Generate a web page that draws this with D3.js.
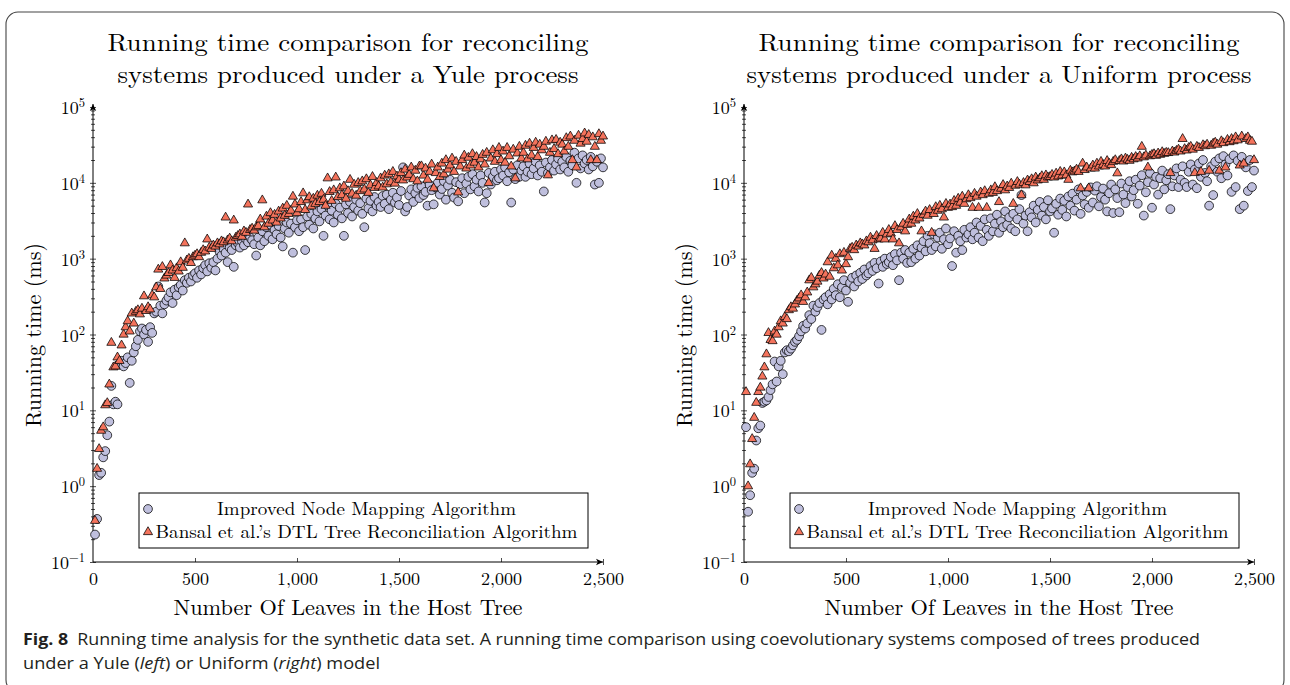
<!DOCTYPE html>
<html>
<head>
<meta charset="utf-8">
<script src="https://cdn.jsdelivr.net/npm/d3@7"></script>
<style>
body { margin: 0; background: #fff; }
</style>
</head>
<body>
<svg id="chart" width="1290" height="685"></svg>
<script>
// host tree sizes (number of leaves), shared by all four series
var leaves = [
  10, 20, 30, 40, 50, 60, 70, 80, 90, 100,
  110, 120, 130, 140, 150, 160, 170, 180, 190, 200,
  210, 220, 230, 240, 250, 260, 270, 280, 290, 300,
  310, 320, 330, 340, 350, 360, 370, 380, 390, 400,
  410, 420, 430, 440, 450, 460, 470, 480, 490, 500,
  510, 520, 530, 540, 550, 560, 570, 580, 590, 600,
  610, 620, 630, 640, 650, 660, 670, 680, 690, 700,
  710, 720, 730, 740, 750, 760, 770, 780, 790, 800,
  810, 820, 830, 840, 850, 860, 870, 880, 890, 900,
  910, 920, 930, 940, 950, 960, 970, 980, 990, 1000,
  1010, 1020, 1030, 1040, 1050, 1060, 1070, 1080, 1090, 1100,
  1110, 1120, 1130, 1140, 1150, 1160, 1170, 1180, 1190, 1200,
  1210, 1220, 1230, 1240, 1250, 1260, 1270, 1280, 1290, 1300,
  1310, 1320, 1330, 1340, 1350, 1360, 1370, 1380, 1390, 1400,
  1410, 1420, 1430, 1440, 1450, 1460, 1470, 1480, 1490, 1500,
  1510, 1520, 1530, 1540, 1550, 1560, 1570, 1580, 1590, 1600,
  1610, 1620, 1630, 1640, 1650, 1660, 1670, 1680, 1690, 1700,
  1710, 1720, 1730, 1740, 1750, 1760, 1770, 1780, 1790, 1800,
  1810, 1820, 1830, 1840, 1850, 1860, 1870, 1880, 1890, 1900,
  1910, 1920, 1930, 1940, 1950, 1960, 1970, 1980, 1990, 2000,
  2010, 2020, 2030, 2040, 2050, 2060, 2070, 2080, 2090, 2100,
  2110, 2120, 2130, 2140, 2150, 2160, 2170, 2180, 2190, 2200,
  2210, 2220, 2230, 2240, 2250, 2260, 2270, 2280, 2290, 2300,
  2310, 2320, 2330, 2340, 2350, 2360, 2370, 2380, 2390, 2400,
  2410, 2420, 2430, 2440, 2450, 2460, 2470, 2480, 2490, 2500
];

// running times in ms, Yule process
var yuleImproved = [
  0.23, 0.37, 1.4, 1.5, 2.4, 2.9, 4.7, 7.1, 21, 12,
  13, 12, 40, 45, 38, 42, 50, 23, 45, 58,
  70, 85, 110, 120, 100, 115, 80, 125, 105, 190,
  200, 430, 240, 190, 250, 280, 310, 360, 260, 390,
  330, 420, 450, 380, 520, 480, 560, 500, 600, 640,
  560, 700, 620, 750, 820, 680, 870, 760, 900, 700,
  1000, 1250, 1100, 1350, 1200, 900, 1400, 1300, 780, 1500,
  1600, 1400, 1700, 1500, 1800, 1650, 1900, 1750, 1550, 1100,
  1900, 1500, 2300, 1700, 2600, 2000, 2800, 1800, 2400, 2100,
  2700, 1900, 1450, 2500, 3000, 2200, 2900, 1200, 2600, 3200,
  2300, 3300, 2600, 1300, 3600, 2800, 3900, 2500, 3400, 4200,
  3100, 4500, 2000, 3700, 5000, 3300, 4300, 3000, 5300, 3800,
  4700, 3400, 2000, 5200, 4000, 5600, 3600, 4800, 6000, 4300,
  5400, 3900, 2600, 6200, 4600, 5800, 4200, 6500, 5000, 5600,
  4800, 6700, 5300, 7000, 4500, 6000, 7400, 5500, 6400, 5100,
  7800, 16000, 4200, 4800, 6800, 8200, 5600, 7300, 8600, 6300,
  9000, 6900, 7600, 5000, 9400, 8000, 5200, 8700, 10000, 7000,
  8300, 10500, 6000, 9200, 11000, 7400, 6400, 10200, 5700, 9600,
  11500, 7300, 9800, 12000, 8200, 13000, 9000, 11000, 7700, 12500,
  10000, 5500, 7300, 13500, 9500, 12000, 14000, 10800, 11500, 15000,
  12500, 16000, 10500, 13800, 5500, 15000, 11200, 17000, 12000, 14500,
  16500, 12000, 14000, 18000, 13000, 15500, 19000, 12500, 17000, 14000,
  7700, 18500, 13500, 16000, 20000, 14500, 17500, 21000, 15000, 19000,
  16000, 22000, 14000, 19500, 17000, 25000, 10000, 21000, 15500, 23000,
  18000, 20000, 15000, 22000, 16500, 9500, 19000, 10000, 21000, 16000
];
var yuleBansal = [
  0.35, 1.7, 3.1, 5.4, 6.0, 11.7, 12.5, 22, 78, 37,
  38, 50, 45, 72, 100, 125, 150, 110, 190, 140,
  200, 210, 185, 220, 320, 205, 230, 215, 330, 310,
  420, 720, 400, 780, 550, 600, 650, 820, 700, 560,
  750, 680, 900, 760, 1600, 950, 1000, 880, 1050, 1100,
  1150, 1050, 1200, 1300, 1250, 1800, 1400, 1350, 1500, 1450,
  1600, 1550, 1700, 1650, 3500, 1750, 1850, 1700, 3200, 1900,
  2000, 2100, 1950, 2300, 2200, 5200, 2400, 2500, 2350, 2600,
  2700, 3300, 5900, 2600, 3600, 2900, 4000, 3200, 3800, 3000,
  4200, 3400, 4600, 3700, 5000, 3900, 4300, 6600, 5200, 4000,
  4500, 5600, 7300, 4400, 5900, 6500, 4900, 6200, 5300, 6800,
  5600, 7200, 6000, 5000, 11500, 7600, 5800, 8000, 11800, 6500,
  8500, 6900, 9000, 6200, 7800, 11000, 7200, 9500, 6800, 10000,
  7800, 10500, 8200, 11200, 7400, 9300, 12000, 8600, 10000, 9000,
  11500, 8700, 12500, 9600, 13000, 10200, 14000, 9800, 12200, 11000,
  13500, 10800, 15000, 11800, 12800, 16000, 11200, 14500, 10500, 16500,
  16600, 12500, 15500, 11000, 14000, 17500, 8500, 13500, 16000, 12000,
  18000, 13000, 20000, 15000, 17000, 21000, 14000, 19000, 7500, 16500,
  20000, 23000, 15500, 21500, 17000, 24000, 18500, 22000, 16000, 20500,
  23500, 17500, 25000, 10000, 21000, 27000, 19000, 24000, 29000, 20000,
  26000, 18500, 29000, 22500, 16500, 27500, 11500, 24500, 30000, 21000,
  25000, 31000, 20500, 33000, 23000, 29000, 34000, 22000, 32000, 27000,
  30000, 35000, 12600, 25000, 36500, 28000, 37000, 24000, 34000, 32000,
  26000, 39000, 30000, 41000, 20000, 36000, 16000, 42000, 33000, 38000,
  45000, 35000, 43000, 20000, 40000, 30000, 20000, 44000, 36000, 41000
];

// running times in ms, Uniform process
var uniformImproved = [
  6.0, 0.46, 0.76, 1.5, 1.7, 4.0, 5.8, 6.3, 12.5, 13,
  13.5, 15, 18.5, 22, 44, 24, 38, 45, 30, 58,
  62, 60, 65, 72, 80, 85, 95, 110, 130, 120,
  140, 180, 160, 240, 200, 230, 260, 115, 290, 310,
  250, 340, 290, 400, 330, 460, 310, 420, 520, 380,
  270, 480, 560, 430, 600, 500, 650, 540, 720, 600,
  640, 800, 690, 880, 750, 470, 920, 780, 1000, 850,
  900, 1050, 820, 1150, 950, 520, 1200, 1000, 1300, 880,
  1200, 900, 1350, 1000, 1500, 1100, 1400, 1700, 1250, 2000,
  1600, 1300, 2100, 1450, 1900, 2200, 1350, 1800, 2500, 1550,
  1850, 800, 2300, 1200, 2000, 1700, 1300, 2400, 1900, 2100,
  2600, 1800, 2200, 3000, 1900, 2700, 1700, 3300, 2400, 2000,
  3400, 2300, 2900, 3800, 2200, 3100, 2600, 4200, 2800, 3500,
  2500, 3900, 2300, 3300, 4500, 6900, 2900, 3700, 2300, 4100,
  3500, 5000, 3000, 4400, 5600, 3700, 4800, 3300, 5900, 4200,
  4600, 2200, 5300, 3800, 6200, 4400, 5800, 3600, 6600, 5000,
  7200, 4300, 6000, 8200, 3900, 6800, 5200, 7600, 4700, 8700,
  5500, 7900, 9000, 4900, 6500, 8400, 6000, 4200, 7300, 9500,
  4000, 8200, 6300, 4100, 9800, 7000, 5400, 8800, 10500, 6600,
  8000, 11000, 5300, 9200, 12600, 3700, 7500, 10200, 13500, 4700,
  9500, 12000, 7000, 11500, 14500, 8200, 10800, 13000, 4500, 9000,
  12500, 15500, 8800, 11000, 16500, 10000, 8800, 14000, 17500, 9500,
  15000, 8500, 18000, 12000, 20000, 13500, 10500, 5000, 16500, 6900,
  19000, 14000, 21000, 11500, 22500, 17500, 12500, 20500, 7600, 23000,
  8800, 19500, 4500, 22000, 5000, 16000, 7800, 20000, 8800, 14500
];
var uniformBansal = [
  17.5, 1.0, 1.95, 4.2, 8.0, 12.6, 17.5, 20, 28, 37,
  55, 105, 85, 82, 110, 100, 125, 150, 140, 170,
  160, 210, 230, 220, 250, 280, 300, 330, 270, 310,
  360, 520, 560, 420, 460, 500, 600, 650, 550, 620,
  900, 580, 1100, 750, 1000, 820, 1150, 700, 1200, 850,
  1050, 1350, 1400, 1300, 1500, 1450, 1600, 1550, 1500, 1700,
  1650, 1900, 1750, 1350, 2000, 1800, 1850, 2200, 1800, 2100,
  2400, 2150, 1800, 2700, 2400, 1600, 2600, 2900, 2300, 2800,
  3300, 2900, 3600, 3200, 3900, 3400, 2300, 3800, 4200, 3700,
  4400, 2200, 3900, 4800, 4300, 5000, 4500, 3500, 5300, 4700,
  5200, 4800, 5800, 5000, 6200, 5500, 6600, 5300, 6100, 6900,
  6300, 4700, 7200, 6600, 4700, 7500, 6900, 7800, 4700, 7200,
  8000, 7400, 8800, 7800, 5600, 8400, 9400, 8000, 9000, 8600,
  9800, 5300, 9200, 10300, 9500, 6900, 10000, 9300, 10800, 10300,
  11200, 9900, 11800, 10800, 11500, 12300, 11000, 12600, 11800, 12000,
  12800, 11800, 13300, 12200, 14000, 12500, 13800, 12600, 11000, 14500,
  13800, 14200, 15000, 14000, 8500, 18000, 14800, 16000, 8500, 15500,
  17000, 15500, 18000, 16500, 19000, 17300, 16500, 19500, 18000, 17200,
  19000, 20000, 13400, 19500, 20500, 19200, 21000, 20200, 19600, 21500,
  20500, 22000, 21000, 22500, 30000, 21800, 23000, 16000, 22500, 23500,
  24000, 22800, 24500, 23500, 25500, 24200, 25000, 24800, 13500, 26000,
  25200, 26500, 27500, 26000, 38000, 28000, 26800, 29000, 30000, 27500,
  13500, 30000, 29000, 14000, 31500, 30500, 32000, 14500, 31000, 33000,
  34000, 32000, 14500, 35500, 33500, 16000, 37000, 34500, 38000, 35500,
  40000, 36500, 17000, 41000, 18000, 38000, 40000, 36000, 35000, 20000
];

var xTicks = [500, 1000, 1500, 2000, 2500];
var xTickZero = [0];
var yDecades = [-1, 0, 1, 2, 3, 4, 5];
var yMinorFactors = [2, 3, 4, 5, 6, 7, 8, 9];

var titleYule = ['Running time comparison for reconciling', 'systems produced under a Yule process'];
var titleUniform = ['Running time comparison for reconciling', 'systems produced under a Uniform process'];
var xLabel = 'Number Of Leaves in the Host Tree';
var yLabel = 'Running time (ms)';
var legendLabels = ['Improved Node Mapping Algorithm', 'Bansal et al.\u2019s DTL Tree Reconciliation Algorithm'];

var serif = "'Latin Modern Roman', 'CMU Serif', 'Liberation Serif', serif";
var circleFill = '#bfbfdd';
var triangleFill = '#f4735c';

var svg = d3.select('#chart');

// frame around the figure
svg.append('rect')
  .attr('x', 6).attr('y', 12)
  .attr('width', 1278).attr('height', 680)
  .attr('rx', 12)
  .attr('fill', 'none')
  .attr('stroke', '#444')
  .attr('stroke-width', 1.1);

var defs = svg.append('defs');
defs.append('marker')
  .attr('id', 'tip')
  .attr('viewBox', '0 -4 8 8')
  .attr('refX', 7).attr('refY', 0)
  .attr('markerWidth', 8).attr('markerHeight', 8)
  .attr('markerUnits', 'userSpaceOnUse')
  .attr('orient', 'auto')
  .append('path')
  .attr('d', 'M0,-3.2L7,0L0,3.2L1.8,0Z')
  .attr('fill', '#000');

drawPanel(93, titleYule, yuleImproved, yuleBansal);
drawPanel(744, titleUniform, uniformImproved, uniformBansal);
drawCaption();


function drawPanel( x0, title, improved, bansal ){
  var g = svg.append('g');

  var x = d3.scaleLinear().domain([0, 2500]).range([x0, x0 + 510]);
  var y = d3.scaleLog().domain([0.1, 1e5]).range([562, 107]);

  // title
  title.forEach(function(line, i) {
    g.append('text')
      .attr('x', x0 + 255).attr('y', 51 + i * 32)
      .attr('text-anchor', 'middle')
      .attr('font-family', serif)
      .attr('font-size', 25)
      .attr('textLength', i == 0 ? 481 : (title[1].length > 38 ? 505 : 461))
      .attr('lengthAdjust', 'spacingAndGlyphs')
      .text(line);
  });

  // y ticks, crossing the axis line
  var majors = yDecades.map(function(e) { return Math.pow(10, e); });
  var minors = [];
  yDecades.slice(0, -1).forEach(function(e) {
    yMinorFactors.forEach(function(f) { minors.push(f * Math.pow(10, e)); });
  });

  [[majors, 3], [minors, 2]].forEach(function(set) {
    [d3.axisLeft(y), d3.axisRight(y)].forEach(function(ax) {
      g.append('g')
        .attr('transform', 'translate(' + x0 + ',0)')
        .call(ax.tickValues(set[0]).tickSize(set[1]).tickFormat(''))
        .call(function(a) {
          a.select('.domain').remove();
          a.selectAll('line').attr('stroke', '#000').attr('stroke-width', 0.7);
        });
    });
  });

  // y tick labels 10^k
  yDecades.forEach(function(e) {
    var t = g.append('text')
      .attr('x', x0 - 8)
      .attr('y', y(Math.pow(10, e)) + 7)
      .attr('text-anchor', 'end')
      .attr('font-family', serif)
      .attr('font-size', 18);
    t.append('tspan').text('10');
    t.append('tspan')
      .attr('dy', -7)
      .attr('font-size', 12.5)
      .text(e < 0 ? '\u2212' + (-e) : String(e));
  });

  // x axis ticks and labels
  var xa = g.append('g')
    .attr('transform', 'translate(0,562)')
    .call(d3.axisBottom(x).tickValues(xTickZero.concat(xTicks)).tickSize(-4).tickPadding(10).tickFormat(d3.format(',')));
  xa.select('.domain').remove();
  xa.selectAll('line')
    .attr('stroke', '#000').attr('stroke-width', 0.7)
    .filter(function(d) { return d == 0; }).remove();
  xa.selectAll('.tick').filter(function(d) { return d == 2500; })
    .select('line').attr('y2', -3).attr('y1', 3);
  xa.selectAll('text')
    .attr('font-family', serif)
    .attr('font-size', 18)
    .attr('fill', '#000');

  // axis lines with arrow tips
  g.append('line')
    .attr('x1', x0).attr('y1', y(0.1))
    .attr('x2', x0).attr('y2', y(1e5) - 3)
    .attr('stroke', '#000').attr('stroke-width', 1)
    .attr('marker-end', 'url(#tip)');
  g.append('line')
    .attr('x1', x0).attr('y1', y(0.1))
    .attr('x2', x(2500)).attr('y2', y(0.1))
    .attr('stroke', '#000').attr('stroke-width', 1)
    .attr('marker-end', 'url(#tip)');

  // axis labels
  g.append('text')
    .attr('x', x0 + 255).attr('y', 615)
    .attr('text-anchor', 'middle')
    .attr('font-family', serif)
    .attr('font-size', 22)
    .attr('textLength', 349)
    .attr('lengthAdjust', 'spacingAndGlyphs')
    .text(xLabel);
  g.append('text')
    .attr('transform', 'translate(' + (x0 - 52) + ',335) rotate(-90)')
    .attr('text-anchor', 'middle')
    .attr('font-family', serif)
    .attr('font-size', 22)
    .attr('textLength', 184)
    .attr('lengthAdjust', 'spacingAndGlyphs')
    .text(yLabel);

  // legend box
  var lg = g.append('g');
  lg.append('rect')
    .attr('x', x0 + 46).attr('y', 493)
    .attr('width', 449).attr('height', 55)
    .attr('fill', '#fff')
    .attr('stroke', '#000').attr('stroke-width', 1);

  // scatter marks
  var pts = leaves.map(function(l, i) { return { x: l, a: improved[i], b: bansal[i] }; });

  g.append('g').selectAll('circle')
    .data(pts)
    .join('circle')
    .attr('cx', function(d) { return x(d.x); })
    .attr('cy', function(d) { return y(d.a); })
    .attr('r', 4.4)
    .attr('fill', circleFill)
    .attr('stroke', '#000')
    .attr('stroke-width', 0.75);

  var tri = d3.symbol().type(d3.symbolTriangle).size(36);
  g.append('g').selectAll('path')
    .data(pts)
    .join('path')
    .attr('transform', function(d) { return 'translate(' + x(d.x) + ',' + y(d.b) + ')'; })
    .attr('d', tri)
    .attr('fill', triangleFill)
    .attr('stroke', '#000')
    .attr('stroke-width', 0.75);

  // legend entries (drawn above the marks)
  lg.raise();
  lg.append('circle')
    .attr('cx', x0 + 55).attr('cy', 509).attr('r', 4.4)
    .attr('fill', circleFill).attr('stroke', '#000').attr('stroke-width', 0.75);
  lg.append('path')
    .attr('transform', 'translate(' + (x0 + 55) + ',532)')
    .attr('d', tri)
    .attr('fill', triangleFill).attr('stroke', '#000').attr('stroke-width', 0.75);
  legendLabels.forEach(function(lab, i) {
    lg.append('text')
      .attr('x', x0 + 273.5).attr('y', 515 + i * 23)
      .attr('text-anchor', 'middle')
      .attr('font-family', serif)
      .attr('font-size', 18)
      .attr('textLength', i == 0 ? 299 : 422)
      .attr('lengthAdjust', 'spacingAndGlyphs')
      .text(lab);
  });
}

function drawCaption(){
  var sans = "'Liberation Sans Narrow', 'Open Sans', 'Noto Sans', sans-serif";
  var t1 = svg.append('text')
    .attr('x', 23).attr('y', 645)
    .attr('font-family', sans)
    .attr('font-size', 15.5)
    .attr('fill', '#231f20')
    .attr('textLength', 1177)
    .attr('lengthAdjust', 'spacingAndGlyphs');
  t1.append('tspan').attr('font-weight', 'bold').text('Fig. 8');
  t1.append('tspan').text('\u2002Running time analysis for the synthetic data set. A running time comparison using coevolutionary systems composed of trees produced');

  var t2 = svg.append('text')
    .attr('x', 23).attr('y', 669)
    .attr('font-family', sans)
    .attr('font-size', 15.5)
    .attr('fill', '#231f20')
    .attr('textLength', 357)
    .attr('lengthAdjust', 'spacingAndGlyphs');
  t2.append('tspan').text('under a Yule (');
  t2.append('tspan').attr('font-style', 'italic').text('left');
  t2.append('tspan').text(') or Uniform (');
  t2.append('tspan').attr('font-style', 'italic').text('right');
  t2.append('tspan').text(') model');
}
</script>
</body>
</html>
